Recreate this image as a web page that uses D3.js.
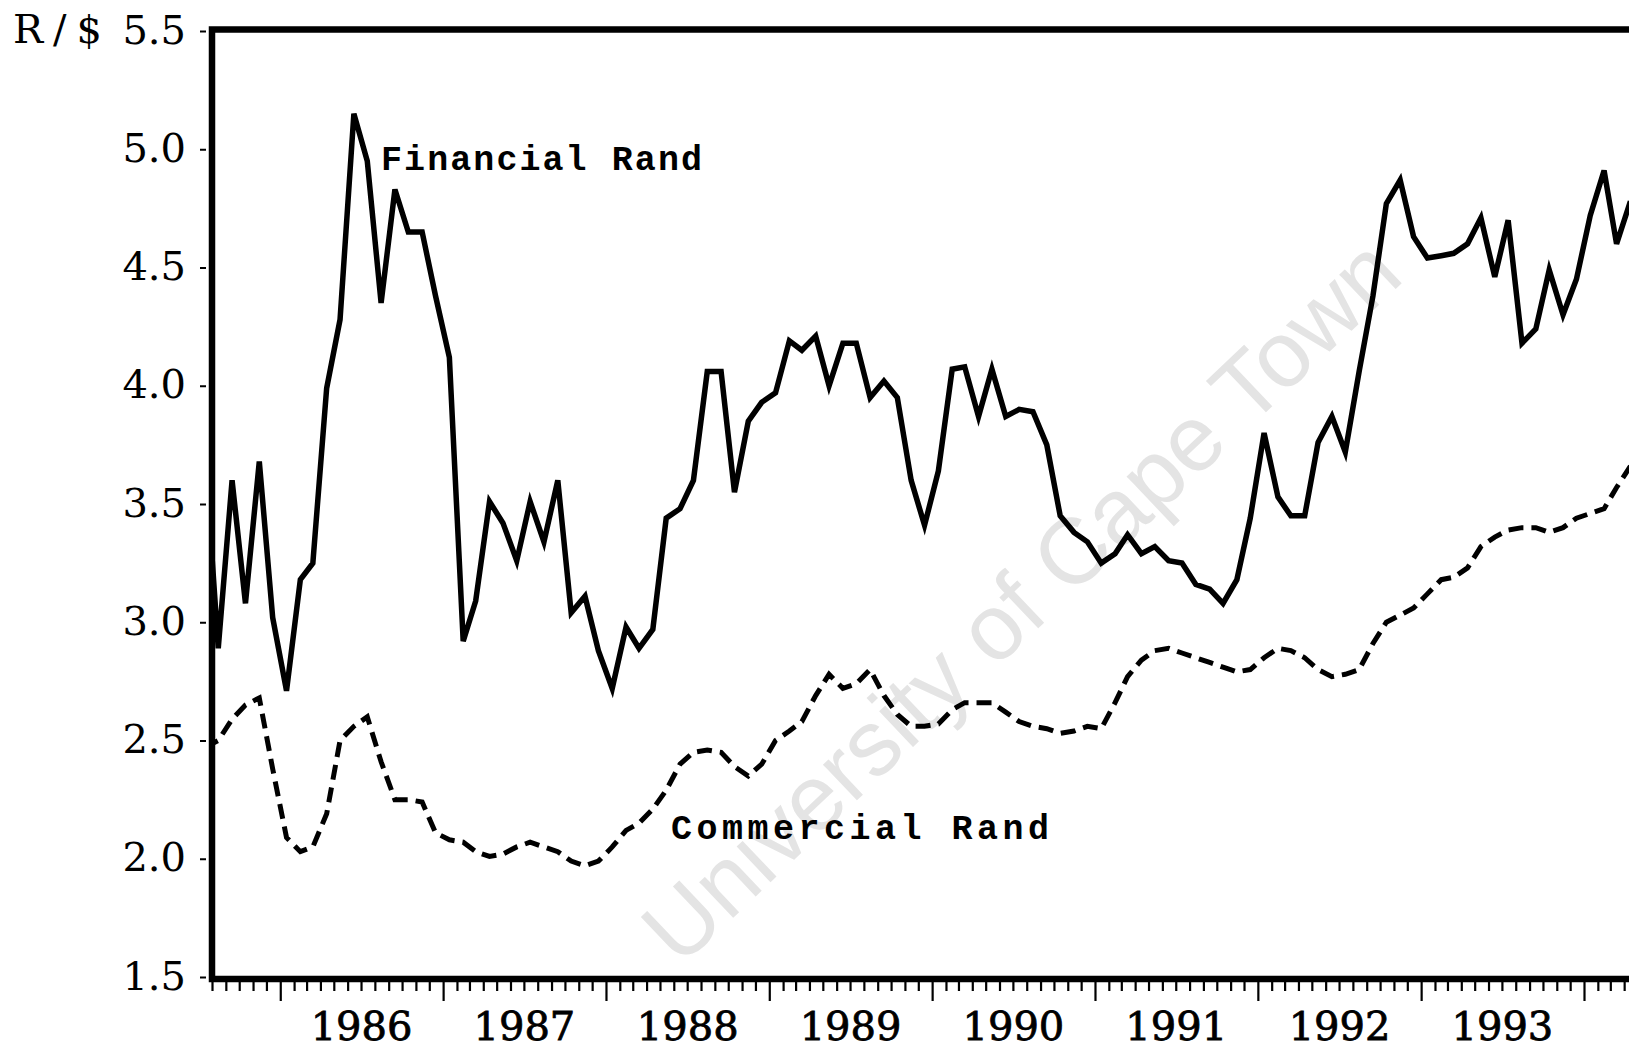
<!DOCTYPE html>
<html>
<head>
<meta charset="utf-8">
<script src="https://cdn.jsdelivr.net/npm/d3@7"></script>
<style>
  body { margin: 0; background: #fff; }
  svg { display: block; }
</style>
</head>
<body>
<svg id="chart" width="1629" height="1052"></svg>
<script>
// monthly R/$ rates, Jul 1985 .. Apr 1994
var firstMonth = "1985-07";
var lastMonth = "1994-04";
var financialRand = [3.75,
    2.89, 3.60, 3.08, 3.68, 3.02, 2.71, 3.18, 3.25, 3.99, 4.28,
    5.15, 4.95, 4.35, 4.83, 4.65, 4.65, 4.38, 4.12, 2.92, 3.09,
    3.51, 3.42, 3.26, 3.51, 3.34, 3.60, 3.04, 3.11, 2.88, 2.72,
    2.98, 2.89, 2.97, 3.44, 3.48, 3.60, 4.06, 4.06, 3.55, 3.85,
    3.93, 3.97, 4.19, 4.15, 4.21, 4.00, 4.18, 4.18, 3.95, 4.02,
    3.95, 3.60, 3.41, 3.64, 4.07, 4.08, 3.87, 4.07, 3.87, 3.90,
    3.89, 3.75, 3.45, 3.38, 3.34, 3.25, 3.29, 3.37, 3.29, 3.32,
    3.26, 3.25, 3.16, 3.14, 3.08, 3.18, 3.44, 3.80, 3.53, 3.45,
    3.45, 3.76, 3.87, 3.72, 4.06, 4.38, 4.77, 4.87, 4.63, 4.54,
    4.55, 4.56, 4.60, 4.71, 4.46, 4.70, 4.18, 4.24, 4.49, 4.30,
    4.45, 4.72, 4.91, 4.60, 4.78];
var commercialRand = [2.47,
    2.50, 2.59, 2.65, 2.68, 2.38, 2.09, 2.03, 2.05, 2.19, 2.50,
    2.56, 2.60, 2.41, 2.25, 2.25, 2.24, 2.11, 2.08, 2.07, 2.03,
    2.01, 2.02, 2.05, 2.07, 2.05, 2.03, 1.99, 1.97, 1.99, 2.05,
    2.12, 2.15, 2.21, 2.29, 2.40, 2.45, 2.46, 2.45, 2.39, 2.35,
    2.40, 2.50, 2.54, 2.58, 2.69, 2.78, 2.72, 2.74, 2.80, 2.69,
    2.61, 2.56, 2.56, 2.57, 2.63, 2.66, 2.66, 2.66, 2.62, 2.58,
    2.56, 2.55, 2.53, 2.54, 2.56, 2.55, 2.66, 2.77, 2.84, 2.88,
    2.89, 2.87, 2.85, 2.83, 2.81, 2.79, 2.80, 2.85, 2.89, 2.88,
    2.85, 2.80, 2.77, 2.78, 2.80, 2.91, 3.00, 3.03, 3.06, 3.12,
    3.18, 3.19, 3.23, 3.32, 3.36, 3.39, 3.40, 3.40, 3.38, 3.40,
    3.44, 3.46, 3.48, 3.57, 3.66];
var yearLabels = [1986, 1987, 1988, 1989, 1990, 1991, 1992, 1993];
var yTicks = [1.5, 2.0, 2.5, 3.0, 3.5, 4.0, 4.5, 5.0, 5.5];
var yUnit = "R/$";
var seriesNames = ["Financial Rand", "Commercial Rand"];

var parseMonth = d3.timeParse("%Y-%m");
var months = d3.timeMonth.range(parseMonth(firstMonth), d3.timeMonth.offset(parseMonth(lastMonth), 1));

var frame = { left: 212, top: 29.5, bottom: 979, right: 1640 };

var svg = d3.select("#chart");

// year boundaries fall on long ticks, one year is ~163px
var x = d3.scaleTime()
    .domain([new Date(1985, 7, 1), new Date(1994, 0, 1)])
    .range([frame.left, 1584]);
var y = d3.scaleLinear().domain([1.5, 5.5]).range([977, 31]);

// watermark of the scan
svg.append("text")
    .attr("transform", "translate(1026,606) rotate(-43.5)")
    .attr("text-anchor", "middle")
    .attr("dominant-baseline", "middle")
    .attr("font-family", "Liberation Sans, Arial, sans-serif")
    .attr("font-size", 93)
    .attr("fill", "#e4e4e4")
    .text("University of Cape Town");

svg.append("clipPath").attr("id", "plotClip")
    .append("rect")
    .attr("x", frame.left).attr("y", frame.top)
    .attr("width", 1629 - frame.left).attr("height", frame.bottom - frame.top);

var line = d3.line()
    .x(function (d) { return x(d3.timeDay.offset(d.month, 14)); })
    .y(function (d) { return y(d.value); });

function rows(values) {
    return months.map(function (m, i) { return { month: m, value: values[i] }; });
}

var plot = svg.append("g").attr("clip-path", "url(#plotClip)");
plot.append("path")
    .datum(rows(commercialRand))
    .attr("fill", "none")
    .attr("stroke", "#000")
    .attr("stroke-width", 5)
    .attr("stroke-dasharray", "15,8")
    .attr("d", line);
plot.append("path")
    .datum(rows(financialRand))
    .attr("fill", "none")
    .attr("stroke", "#000")
    .attr("stroke-width", 5.5)
    .attr("stroke-linejoin", "miter")
    .attr("d", line);

// frame: thick left, top and bottom rules, open on the right
svg.append("path")
    .attr("d", "M" + frame.right + "," + frame.top + "H" + frame.left + "V" + frame.bottom + "H" + frame.right)
    .attr("fill", "none")
    .attr("stroke", "#000")
    .attr("stroke-width", 6.5)
    .attr("stroke-linejoin", "miter");

// x axis: month ticks, longer ticks at January, year labels mid-year
var monthTicks = d3.timeMonth.range(new Date(1985, 7, 1), new Date(1994, 4, 1));
var xMinor = svg.append("g")
    .attr("transform", "translate(0," + (frame.bottom + 3) + ")")
    .call(d3.axisBottom(x).tickValues(monthTicks.filter(function (d) { return d.getMonth() !== 0; }))
        .tickSize(9).tickFormat(""));
var xMajor = svg.append("g")
    .attr("transform", "translate(0," + (frame.bottom + 3) + ")")
    .call(d3.axisBottom(x).tickValues(monthTicks.filter(function (d) { return d.getMonth() === 0; }))
        .tickSize(19).tickFormat(""));
[xMinor, xMajor].forEach(function (g) {
    g.select(".domain").remove();
    g.selectAll(".tick line").attr("stroke", "#000").attr("stroke-width", 2.2);
});

var xLabels = svg.append("g")
    .attr("transform", "translate(0,1040)")
    .call(d3.axisBottom(x).tickValues(yearLabels.map(function (yr) { return new Date(yr, 6, 1); }))
        .tickSize(0).tickFormat(d3.timeFormat("%Y")));
xLabels.select(".domain").remove();
xLabels.selectAll("text")
    .attr("y", 0).attr("dy", 0)
    .attr("font-family", "DejaVu Serif, serif")
    .attr("font-size", 40)
    .attr("fill", "#000")
    .attr("stroke", "#000").attr("stroke-width", 0.8);

// y axis: short dashes left of the frame
var yAxis = svg.append("g")
    .attr("transform", "translate(206,0)")
    .call(d3.axisLeft(y).tickValues(yTicks).tickSize(6).tickPadding(14).tickFormat(d3.format(".1f")));
yAxis.select(".domain").remove();
yAxis.selectAll(".tick line").attr("stroke", "#000").attr("stroke-width", 2);
yAxis.selectAll("text")
    .attr("font-family", "DejaVu Serif, serif")
    .attr("font-size", 40)
    .attr("fill", "#000")
    .attr("dy", "0.3em");

svg.append("text")
    .attr("x", 13).attr("y", y(5.5) + 12)
    .attr("font-family", "DejaVu Serif, serif")
    .attr("font-size", 40)
    .attr("textLength", 89).attr("lengthAdjust", "spacing")
    .text(yUnit);

// series labels in typewriter face
var labelFont = "Liberation Mono, Courier New, monospace";
svg.append("text")
    .attr("x", 381).attr("y", 170)
    .attr("font-family", labelFont).attr("font-weight", "bold")
    .attr("font-size", 35)
    .attr("textLength", 321).attr("lengthAdjust", "spacing")
    .text(seriesNames[0]);
svg.append("text")
    .attr("x", 671).attr("y", 839)
    .attr("font-family", labelFont).attr("font-weight", "bold")
    .attr("font-size", 35)
    .attr("textLength", 378).attr("lengthAdjust", "spacing")
    .text(seriesNames[1]);
</script>
</body>
</html>
